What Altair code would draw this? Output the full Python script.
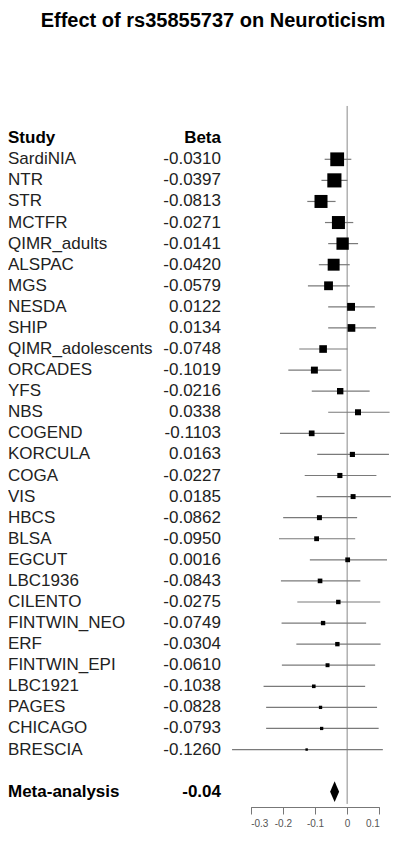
import altair as alt
import pandas as pd

# ---------------- data ----------------
title_text = "Effect of rs35855737 on Neuroticism"
studies = ["SardiNIA", "NTR", "STR", "MCTFR", "QIMR_adults", "ALSPAC", "MGS",
           "NESDA", "SHIP", "QIMR_adolescents", "ORCADES", "YFS", "NBS", "COGEND",
           "KORCULA", "COGA", "VIS", "HBCS", "BLSA", "EGCUT", "LBC1936", "CILENTO",
           "FINTWIN_NEO", "ERF", "FINTWIN_EPI", "LBC1921", "PAGES", "CHICAGO", "BRESCIA"]
betas = [-0.0310, -0.0397, -0.0813, -0.0271, -0.0141, -0.0420, -0.0579,
         0.0122, 0.0134, -0.0748, -0.1019, -0.0216, 0.0338, -0.1103,
         0.0163, -0.0227, 0.0185, -0.0862, -0.0950, 0.0016, -0.0843, -0.0275,
         -0.0749, -0.0304, -0.0610, -0.1038, -0.0828, -0.0793, -0.1260]
ci_lower = [-0.070, -0.080, -0.124, -0.069, -0.059, -0.088, -0.122,
            -0.059, -0.059, -0.149, -0.183, -0.110, -0.059, -0.209,
            -0.093, -0.132, -0.095, -0.199, -0.212, -0.116, -0.206, -0.155,
            -0.204, -0.158, -0.203, -0.260, -0.252, -0.252, -0.358]
ci_upper = [0.013, 0.001, -0.036, 0.019, 0.034, 0.008, 0.008,
            0.086, 0.090, 0.001, -0.018, 0.070, 0.132, -0.008,
            0.130, 0.091, 0.136, 0.031, 0.025, 0.124, 0.041, 0.103,
            0.059, 0.104, 0.087, 0.056, 0.093, 0.098, 0.111]
meta_label = "Meta-analysis"
meta_text = "-0.04"
meta_beta = -0.039
meta_lower = -0.053
meta_upper = -0.025
axis_ticks = [-0.3, -0.2, -0.1, 0, 0.1]
header_study = "Study"
header_beta = "Beta"

# ---------------- derived tables ----------------
n = len(studies)
df = pd.DataFrame({"study": studies, "beta": betas, "lo": ci_lower, "hi": ci_upper,
                   "row": list(range(1, n + 1))})
df["se"] = (df["hi"] - df["lo"]) / 3.92
df["weight"] = 1.0 / df["se"] ** 2
df["beta_txt"] = df["beta"].map(lambda b: f"{b:.4f}")
wmax = float(df["weight"].max())

meta_row = n + 2
half_h = 0.49  # diamond half height in row units
diamond = pd.DataFrame({
    "x": [meta_lower, meta_beta, meta_upper],
    "ya": [meta_row, meta_row - half_h, meta_row],
    "yb": [meta_row, meta_row + half_h, meta_row],
})
meta_df = pd.DataFrame({"label": [meta_label], "val": [meta_text], "row": [meta_row]})
head_df = pd.DataFrame({"s": [header_study], "b": [header_beta], "row": [0]})
title_df = pd.DataFrame({"t": [title_text]})

# ---------------- layout ----------------
FONT = "Liberation Sans"
W, H = 384, 769
ROW0, STEP = 121.3, 21.08
xs = alt.Scale(domain=[-0.3, 0.1], range=[242.7, 371.3], nice=False, zero=False)
ys = alt.Scale(domain=[1, n], range=[ROW0, ROW0 + (n - 1) * STEP], nice=False, zero=False)
xaxis = alt.Axis(values=axis_ticks, title=None, grid=False, tickSize=7,
                 domainColor="#777777", tickColor="#777777", labelColor="#555555",
                 labelFont=FONT, labelFontSize=10, labelPadding=4,
                 labelExpr="toString(datum.value)")

title = alt.Chart(title_df).mark_text(align="center", baseline="middle", font=FONT,
                                      fontSize=20, fontWeight="bold", color="black").encode(
    x=alt.value(205), y=alt.value(-17), text="t:N")

zero_line = alt.Chart(pd.DataFrame({"x": [0]})).mark_rule(
    color="#8a8a8a", strokeWidth=1
).encode(
    x=alt.X("x:Q", scale=xs, axis=xaxis),
    y=alt.YDatum(-1.53, scale=ys, axis=None),
    y2=alt.Y2Datum(31.58),
)

ci = alt.Chart(df).mark_rule(color="#7a7a7a", strokeWidth=1.2).encode(
    x=alt.X("lo:Q", scale=xs, axis=xaxis),
    x2="hi:Q",
    y=alt.Y("row:Q", scale=ys, axis=None),
)

boxes = alt.Chart(df).mark_square(color="black", filled=True, opacity=1).encode(
    x=alt.X("beta:Q", scale=xs, axis=xaxis),
    y=alt.Y("row:Q", scale=ys, axis=None),
    size=alt.Size("weight:Q", scale=alt.Scale(domain=[0, wmax], range=[0, 200]), legend=None),
)

names = alt.Chart(df).mark_text(align="left", baseline="middle", font=FONT,
                                fontSize=17, color="#222222").encode(
    x=alt.value(0), y=alt.Y("row:Q", scale=ys, axis=None), text="study:N")

vals = alt.Chart(df).mark_text(align="right", baseline="middle", font=FONT,
                               fontSize=17, color="#222222").encode(
    x=alt.value(213), y=alt.Y("row:Q", scale=ys, axis=None), text="beta_txt:N")

head_s = alt.Chart(head_df).mark_text(align="left", baseline="middle", font=FONT,
                                      fontSize=17, fontWeight="bold", color="black").encode(
    x=alt.value(0), y=alt.Y("row:Q", scale=ys, axis=None), text="s:N")
head_b = alt.Chart(head_df).mark_text(align="right", baseline="middle", font=FONT,
                                      fontSize=17, fontWeight="bold", color="black").encode(
    x=alt.value(213), y=alt.Y("row:Q", scale=ys, axis=None), text="b:N")

meta_l = alt.Chart(meta_df).mark_text(align="left", baseline="middle", font=FONT,
                                      fontSize=17, fontWeight="bold", color="black").encode(
    x=alt.value(0), y=alt.Y("row:Q", scale=ys, axis=None), text="label:N")
meta_v = alt.Chart(meta_df).mark_text(align="right", baseline="middle", font=FONT,
                                      fontSize=17, fontWeight="bold", color="black").encode(
    x=alt.value(213), y=alt.Y("row:Q", scale=ys, axis=None), text="val:N")

dia = alt.Chart(diamond).mark_area(color="black", orient="vertical", opacity=1).encode(
    x=alt.X("x:Q", scale=xs, axis=xaxis),
    y=alt.Y("ya:Q", scale=ys, axis=None),
    y2="yb:Q",
)

chart = alt.layer(title, zero_line, ci, boxes, names, vals, head_s, head_b,
                  meta_l, meta_v, dia).properties(
    width=W, height=H,
    autosize=alt.AutoSizeParams(type="none"),
    padding={"left": 0, "top": 30, "right": 0, "bottom": 22},
).configure_view(stroke=None)

chart.save("out.html", embed_options={"renderer": "svg", "actions": False})
